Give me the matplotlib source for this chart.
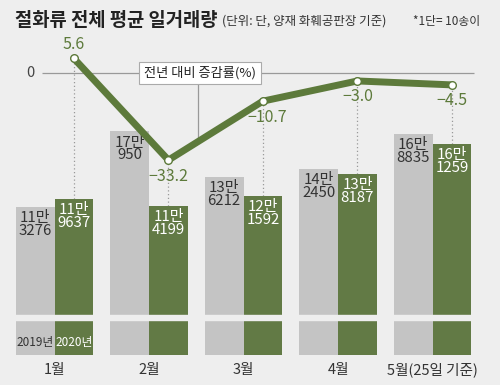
import numpy as np
import matplotlib.pyplot as plt

plt.rcParams['font.family'] = ['Noto Sans CJK KR', 'DejaVu Sans']

months = ['1월', '2월', '3월', '4월', '5월(25일 기준)']
vol_2019 = [113276, 170950, 136212, 142450, 168835]
vol_2020 = [119637, 114199, 121592, 138187, 161259]
change = [5.6, -33.2, -10.7, -3.0, -4.5]
change_labels = ['5.6', '\u221233.2', '\u221210.7', '\u22123.0', '\u22124.5']

BG = '#eeeeee'
GREEN = '#627a45'
LINEG = '#5d7a3b'
GRAY = '#c4c4c4'

def man(v):
    return '%d만\n%d' % (v // 10000, v % 10000)

fig = plt.figure(figsize=(5, 3.85), dpi=100, facecolor=BG)
ax = fig.add_axes([0, 30 / 385, 1, 355 / 385])
ax.set_facecolor(BG)
ax2 = ax.twinx()
ax2.set_position(ax.get_position())
ax2.patch.set_visible(False)

x = np.arange(len(months))
w = 0.41
ax.set_xlim(-0.577, 4.714)
ax.set_ylim(0, 271400)
ax2.set_ylim(-107.6, 27.9)
for a in (ax, ax2):
    a.axis('off')

ax.bar(x - w / 2, vol_2019, w, color=GRAY, zorder=2)
ax.bar(x + w / 2, vol_2020, w, color=GREEN, zorder=2)
# break strip near bottom
ax.axhspan(26800, 30600, color=BG, zorder=3)

for i in range(len(months)):
    ax.annotate(man(vol_2019[i]), (x[i] - w / 2, vol_2019[i]), xytext=(0, -3),
                textcoords='offset points', ha='center', va='top', fontsize=10.8,
                color='#333333', linespacing=0.9, zorder=4)
    ax.annotate(man(vol_2020[i]), (x[i] + w / 2, vol_2020[i]), xytext=(0, -3),
                textcoords='offset points', ha='center', va='top', fontsize=10.8,
                color='white', linespacing=0.9, zorder=4)
    ax.text(x[i], -6000, months[i], ha='center', va='top', fontsize=10.5, color='#333333')

ax.text(x[0] - w / 2, 9200, '2019년', ha='center', va='center', fontsize=8.5, color='#333333', zorder=4)
ax.text(x[0] + w / 2, 9200, '2020년', ha='center', va='center', fontsize=8.5, color='white', zorder=4)

# dotted drops from line points to green bars
lo2, hi2 = ax2.get_ylim()
lo1, hi1 = ax.get_ylim()
for i in range(len(months)):
    top = lo1 + (change[i] - lo2) / (hi2 - lo2) * (hi1 - lo1)
    ax.vlines(x[i] + w / 2, vol_2020[i], top, colors='#999999', linestyles=(0, (1, 2)),
              linewidth=0.9, zorder=1)

ax2.hlines(0, -0.13, 4.44, colors='#999999', linewidth=0.9, zorder=1)
ax2.text(-0.26, 0, '0', ha='center', va='center', fontsize=10.5, color='#444444')

ax2.plot(x + w / 2, change, color=LINEG, linewidth=5, solid_capstyle='round',
         marker='o', markersize=5.5, markerfacecolor='white', markeredgecolor=LINEG,
         markeredgewidth=1, zorder=5)

offs = [(0, 10), (0, -12), (3, -12), (0, -11), (0, -11)]
for i in range(len(months)):
    ax2.annotate(change_labels[i], (x[i] + w / 2, change[i]), xytext=offs[i],
                 textcoords='offset points', ha='center', va='center', fontsize=11.5,
                 color=LINEG, zorder=6)

# legend box with leader line
lx = 1.52
ly = np.interp(lx, x + w / 2, change)
ax2.plot([lx, lx], [-4, ly], color='#999999', linewidth=0.9, zorder=4)
ax2.text(1.54, 0, '전년 대비 증감률(%)', ha='center', va='center', fontsize=9.5,
         color='#222222', zorder=6,
         bbox=dict(boxstyle='square,pad=0.35', facecolor='white', edgecolor='#aaaaaa', linewidth=0.8))

fig.text(15 / 500, 1 - 20 / 385, '절화류 전체 평균 일거래량', fontsize=13.5, fontweight='bold',
         color='#222222', va='center', ha='left')
fig.text(222 / 500, 1 - 21 / 385, '(단위: 단, 양재 화훼공판장 기준)', fontsize=9,
         color='#333333', va='center', ha='left')
fig.text(413 / 500, 1 - 21 / 385, '*1단= 10송이', fontsize=8.5,
         color='#333333', va='center', ha='left')

fig.savefig('out.png', dpi=100, facecolor=BG)
